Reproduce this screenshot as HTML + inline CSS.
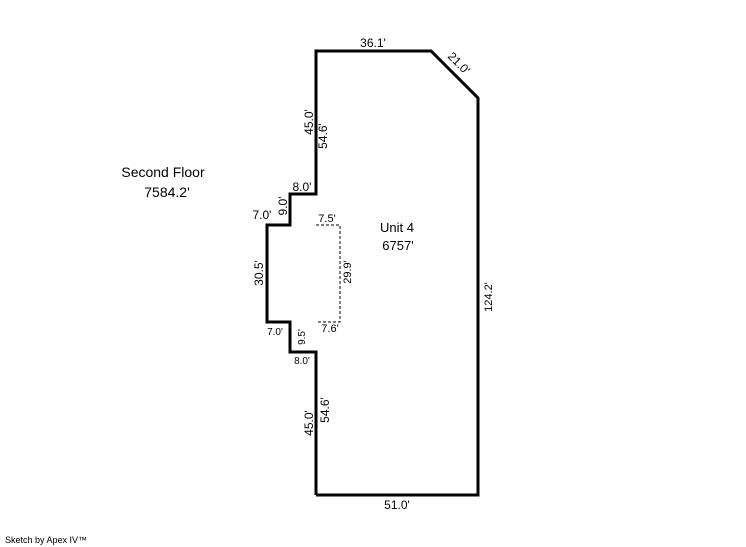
<!DOCTYPE html>
<html><head><style>
html,body{margin:0;padding:0;background:#fff;}
svg{display:block;}
text{font-family:"Liberation Sans",Arial,sans-serif;fill:#000;}
</style></head><body>
<svg width="746" height="547" viewBox="0 0 746 547" xmlns="http://www.w3.org/2000/svg">
<polyline points="316,495 316,352 290,352 290,322 267,322 267,225 290,225 290,194 316,194 316,51 431,51 478,98 478,495 316,495" fill="none" stroke="#000" stroke-width="3" stroke-linejoin="miter"/>
<polyline points="316,225 340,225 340,322 316,322" fill="none" stroke="#000" stroke-width="1" stroke-dasharray="3,2"/>
<g font-size="12">
<text x="373" y="47" text-anchor="middle">36.1'</text>
<text x="0" y="0" transform="translate(447,57) rotate(45)">21.0'</text>
<text x="0" y="0" transform="translate(313,122) rotate(-90)" text-anchor="middle">45.0'</text>
<text x="0" y="0" transform="translate(327,136) rotate(-90)" text-anchor="middle">54.6'</text>
<text x="163" y="177" text-anchor="middle" font-size="14">Second Floor</text>
<text x="167" y="197" text-anchor="middle" font-size="14">7584.2'</text>
<text x="302" y="191" text-anchor="middle">8.0'</text>
<text x="262" y="219" text-anchor="middle">7.0'</text>
<text x="0" y="0" transform="translate(287,206) rotate(-90)" text-anchor="middle">9.0'</text>
<text x="327" y="222" text-anchor="middle" font-size="11">7.5'</text>
<text x="397" y="232" text-anchor="middle" font-size="13">Unit 4</text>
<text x="398" y="250" text-anchor="middle" font-size="13">6757'</text>
<text x="0" y="0" transform="translate(263,273) rotate(-90)" text-anchor="middle">30.5'</text>
<text x="0" y="0" transform="translate(351,272) rotate(-90)" text-anchor="middle" font-size="11">29.9'</text>
<text x="0" y="0" transform="translate(492,297) rotate(-90)" text-anchor="middle" font-size="11">124.2'</text>
<text x="275" y="335" text-anchor="middle" font-size="10">7.0'</text>
<text x="330" y="332" text-anchor="middle" font-size="11">7.6'</text>
<text x="0" y="0" transform="translate(305,337) rotate(-90)" text-anchor="middle" font-size="10">9.5'</text>
<text x="302" y="364" text-anchor="middle" font-size="10">8.0'</text>
<text x="0" y="0" transform="translate(313,423) rotate(-90)" text-anchor="middle">45.0'</text>
<text x="0" y="0" transform="translate(329,410) rotate(-90)" text-anchor="middle">54.6'</text>
<text x="397" y="509" text-anchor="middle">51.0'</text>
</g>
<text x="5" y="543" font-size="9">Sketch by Apex IV™</text>
</svg>
</body></html>
